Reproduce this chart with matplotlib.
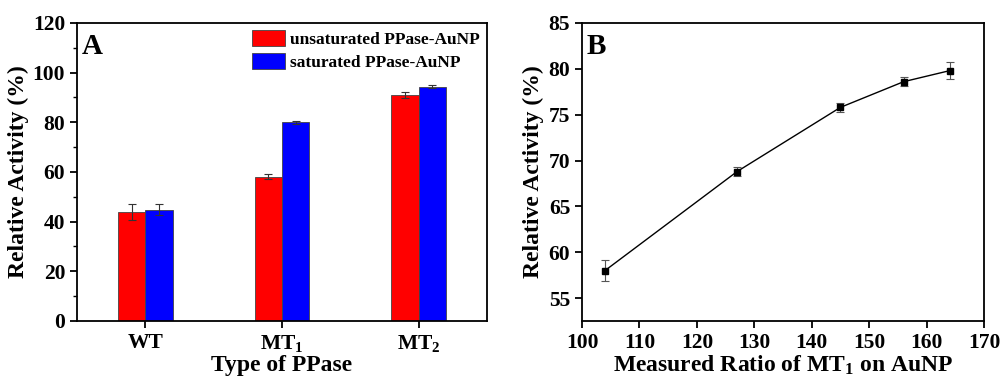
import numpy as np
import matplotlib
matplotlib.use("Agg")
import matplotlib.pyplot as plt

plt.rcParams['font.family'] = ['Liberation Serif', 'DejaVu Serif']
plt.rcParams['font.weight'] = 'bold'
plt.rcParams['mathtext.fontset'] = 'custom'
plt.rcParams['mathtext.rm'] = 'Liberation Serif:bold'
plt.rcParams['mathtext.bf'] = 'Liberation Serif:bold'
plt.rcParams['mathtext.it'] = 'Liberation Serif:bold'
plt.rcParams['mathtext.default'] = 'bf'

# Panel A data
categories = ['WT', 'MT$_1$', 'MT$_2$']
unsat = [44.0, 58.0, 91.0]
unsat_err = [3.3, 1.0, 1.3]
sat = [44.8, 80.0, 94.3]
sat_err = [2.3, 0.7, 0.6]

# Panel B data
ratio = [104, 127, 145, 156, 164]
activity = [58.0, 68.8, 75.8, 78.6, 79.8]
activity_err = [1.1, 0.5, 0.5, 0.5, 0.9]

fig = plt.figure(figsize=(10.03, 3.82), dpi=100)
axA = fig.add_axes([0.0768, 0.1597, 0.4087, 0.7801])
axB = fig.add_axes([0.5803, 0.1597, 0.4008, 0.7801])

x = np.arange(len(categories))
w = 0.2
axA.bar(x - w / 2, unsat, w, color='#ff0000', edgecolor='#444444', linewidth=0.6,
        label='unsaturated PPase-AuNP')
axA.bar(x + w / 2, sat, w, color='#0000ff', edgecolor='#444444', linewidth=0.6,
        label='saturated PPase-AuNP')
axA.errorbar(x - w / 2, unsat, yerr=unsat_err, fmt='none', ecolor='#333333',
             elinewidth=0.8, capsize=3, capthick=0.8)
axA.errorbar(x + w / 2, sat, yerr=sat_err, fmt='none', ecolor='#333333',
             elinewidth=0.8, capsize=3, capthick=0.8)
axA.set_xlim(-0.5, 2.5)
axA.set_ylim(0, 120)
axA.set_xticks(x)
axA.set_xticklabels(categories)
axA.set_yticks(np.arange(0, 121, 20))
axA.set_yticks(np.arange(10, 120, 20), minor=True)
axA.set_xlabel('Type of PPase', fontsize=17, fontweight='bold', labelpad=1)
axA.set_ylabel('Relative Activity (%)', fontsize=17, fontweight='bold', labelpad=3)
axA.text(0.012, 0.965, 'A', transform=axA.transAxes, fontsize=21,
         fontweight='bold', va='top', ha='left')
leg = axA.legend(loc='upper right', frameon=False, fontsize=12.5,
                 handlelength=1.9, handleheight=1.05, handletextpad=0.3,
                 labelspacing=0.3, borderaxespad=0.0)
for t in leg.get_texts():
    t.set_fontweight('bold')

axB.errorbar(ratio, activity, yerr=activity_err, fmt='s-', color='black',
             markersize=5, linewidth=1.0, ecolor='#555555', elinewidth=0.8,
             capsize=3, capthick=0.8)
axB.set_xlim(100, 170)
axB.set_ylim(52.5, 85)
axB.set_xticks(np.arange(100, 171, 10))
axB.set_yticks(np.arange(55, 86, 5))
axB.set_xlabel('Measured Ratio of MT$_1$ on AuNP', fontsize=17,
               fontweight='bold', labelpad=1)
axB.set_ylabel('Relative Activity (%)', fontsize=17, fontweight='bold', labelpad=3)
axB.text(0.012, 0.965, 'B', transform=axB.transAxes, fontsize=21,
         fontweight='bold', va='top', ha='left')

for ax in (axA, axB):
    for s in ax.spines.values():
        s.set_linewidth(1.3)
    ax.tick_params(axis='both', which='major', direction='out', length=5,
                   width=1.3, labelsize=15.5, top=False, right=False)
    ax.tick_params(axis='both', which='minor', direction='out', length=3,
                   width=1.0)
    for lab in ax.get_xticklabels() + ax.get_yticklabels():
        lab.set_fontweight('bold')

fig.savefig('out.png', dpi=100)
